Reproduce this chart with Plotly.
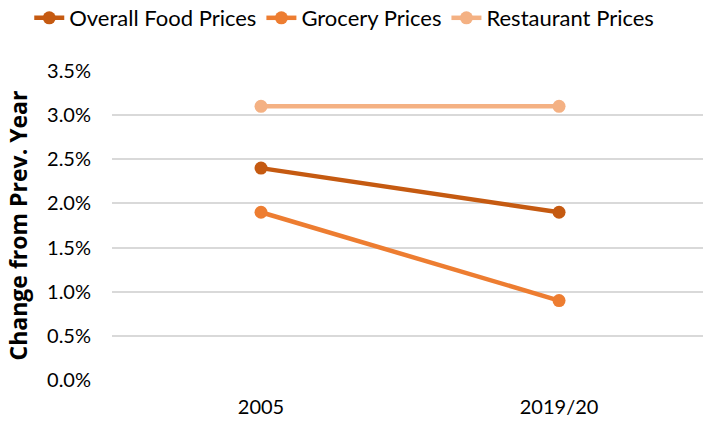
import plotly.graph_objects as go

categories = ["2005", "2019/20"]
overall = [0.024, 0.019]
grocery = [0.019, 0.009]
restaurant = [0.031, 0.031]
series_names = ["Overall Food Prices", "Grocery Prices", "Restaurant Prices"]
colors = ["#C55A11", "#ED7D31", "#F4B183"]
y_ticks = [0, 0.005, 0.01, 0.015, 0.02, 0.025, 0.03, 0.035]

fig = go.Figure()
for name, vals, col in zip(series_names, [overall, grocery, restaurant], colors):
    fig.add_trace(go.Scatter(
        x=[0, 1], y=vals, name=name, mode="lines+markers",
        line=dict(color=col, width=4.5),
        marker=dict(color=col, size=13),
    ))

fig.update_layout(
    width=703, height=421,
    margin=dict(l=112, r=0, t=71, b=41, autoexpand=False),
    paper_bgcolor="white", plot_bgcolor="white",
    font=dict(family="Lato, sans-serif", size=20, color="#000000"),
    showlegend=True,
    legend=dict(orientation="h", x=-0.14, xanchor="left",
                y=1.1715, yanchor="middle",
                font=dict(size=22), itemwidth=30, tracegroupgap=0,
                bgcolor="rgba(0,0,0,0)"),
    xaxis=dict(
        range=[-0.5, 1.483], tickmode="array", tickvals=[0, 1], ticktext=categories,
        showgrid=False, zeroline=False, showline=False, ticks="",
        ticklabelstandoff=13, fixedrange=True, automargin=False,
    ),
    yaxis=dict(
        range=[0, 0.035], tickmode="array", tickvals=y_ticks,
        ticktext=[f"{v*100:.1f}%" for v in y_ticks],
        showgrid=True, gridcolor="#D9D9D9", gridwidth=1.5, zeroline=False,
        showline=False, ticks="", ticklabelstandoff=20,
        title=dict(text="<b>Change from Prev. Year</b>",
                   font=dict(family="Open Sans, sans-serif", size=23), standoff=12),
        automargin=False,
    ),
)

fig.write_html("out.html", config={"displayModeBar": False},
               post_script="document.body.style.margin='0';")
